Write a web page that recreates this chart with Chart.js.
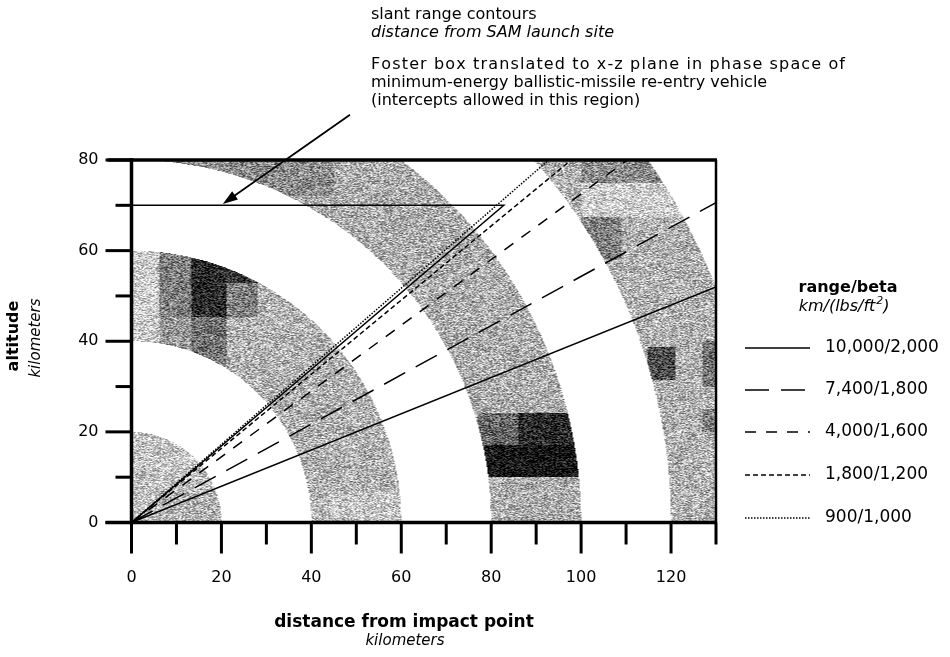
<!DOCTYPE html>
<html>
<head>
<meta charset="utf-8">
<script src="https://cdn.jsdelivr.net/npm/chart.js@4.4.1/dist/chart.umd.min.js"></script>
<style>
  html, body { margin: 0; padding: 0; background: #fff; }
  #wrap { position: relative; width: 950px; height: 657px; }
  canvas { background: #fff; }
</style>
</head>
<body>
<div id="wrap"><canvas id="chart" width="950" height="657"></canvas></div>
<script>
// Slant-range bands (km from the SAM launch site) drawn as shaded rings
const ringBands = [[0, 20], [40, 60], [80, 100], [120, 140]];
// base darkness of each band (0 = white, 1 = black)
const ringShade = [0.22, 0.30, 0.32, 0.30];
// darker / lighter cells inside the bands: [xFrom, xTo, yFrom, yTo, darkness]
const shadeCells = [
  [6, 20, 0, 7, 0.3],
  [0, 6.3, 40, 60, 0.2],
  [6.3, 13.3, 35, 45.4, 0.4],
  [13.3, 21.2, 35, 45.4, 0.55],
  [6.3, 13.3, 45.4, 60, 0.5],
  [13.3, 21.2, 45.4, 60, 0.86],
  [21.2, 28, 52.8, 60, 0.8],
  [21.2, 28, 45.4, 52.8, 0.5],
  [44, 60, 0, 7, 0.22],
  [10, 45, 72, 80, 0.45],
  [77, 86, 17.1, 24.1, 0.6],
  [86, 100, 17.1, 24.1, 0.85],
  [77, 100, 10.1, 17.1, 0.97],
  [100, 109, 58, 67.5, 0.5],
  [100, 122, 67.5, 75, 0.18],
  [100, 130, 75, 80, 0.45],
  [114.8, 121, 31.4, 38.8, 0.7],
  [127, 130, 30, 40, 0.55],
  [127, 130, 20, 25, 0.5]
];

// Trajectories: range/beta of each re-entry vehicle, straight from the impact point
const seriesNames = ['10,000/2,000', '7,400/1,800', '4,000/1,600', '1,800/1,200', '900/1,000'];
const seriesEndX = [130, 130, 110.3, 97.8, 92.8];
const seriesEndY = [52, 70.6, 80, 80, 80];
const seriesDash = [[], [24, 12], [11, 10], [5, 3], [1.5, 1.5]];

// Foster box outline (intercepts allowed inside)
const fosterX = [0, 82.8, 0];
const fosterY = [70, 70, 0];

// Axis ranges and tick steps
const xRange = [0, 130];
const yRange = [0, 80];
const tickStep = 10;
const labelStep = 20;

// Annotation arrow, in km: tail and tip
const arrowTail = [48.6, 90];
const arrowTip = [20.3, 70.3];

const FONT = '"DejaVu Sans", "Liberation Sans", sans-serif';

function grain(i, j) {
  let h = Math.imul(i + 1, 0x27d4eb2d) ^ Math.imul(j + 7, 0x165667b1);
  h = Math.imul(h ^ (h >>> 15), 0x85ebca6b);
  h = Math.imul(h ^ (h >>> 13), 0xc2b2ae35);
  h ^= h >>> 16;
  return (h >>> 0) / 4294967296;
}

const ringPlugin = {
  id: 'ringPlugin',
  beforeDatasetsDraw(chart) {
    const { ctx, chartArea: a, scales } = chart;
    const xs = scales.x, ys = scales.y;
    const w = Math.round(a.right - a.left), h = Math.round(a.bottom - a.top);
    const off = document.createElement('canvas');
    off.width = w; off.height = h;
    const octx = off.getContext('2d');
    const img = octx.createImageData(w, h);
    const xv = new Float64Array(w), yv = new Float64Array(h);
    for (let i = 0; i < w; i++) xv[i] = xs.getValueForPixel(a.left + i + 0.5);
    for (let j = 0; j < h; j++) yv[j] = ys.getValueForPixel(a.top + j + 0.5);
    for (let j = 0; j < h; j++) {
      for (let i = 0; i < w; i++) {
        const x = xv[i], y = yv[j], r = Math.hypot(x, y);
        let band = -1;
        for (let k = 0; k < ringBands.length; k++) {
          if (r >= ringBands[k][0] && r < ringBands[k][1]) { band = k; break; }
        }
        if (band < 0) continue;
        let d = ringShade[band];
        for (const c of shadeCells) {
          if (x >= c[0] && x < c[1] && y >= c[2] && y < c[3]) d = c[4];
        }
        const v = Math.max(0, Math.min(255, 255 * (1 - d) + (grain(i, j) - 0.5) * 170));
        const p = (j * w + i) * 4;
        img.data[p] = img.data[p + 1] = img.data[p + 2] = v;
        img.data[p + 3] = 255;
      }
    }
    octx.putImageData(img, 0, 0);
    ctx.drawImage(off, a.left, a.top);
  }
};

function seg(ctx, x1, y1, x2, y2) {
  ctx.beginPath(); ctx.moveTo(x1, y1); ctx.lineTo(x2, y2); ctx.stroke();
}

// set a line of text out to a fixed width with even letter spacing
function spaced(ctx, text, x, y, width) {
  const chars = Array.from(text);
  const total = chars.reduce((s, c) => s + ctx.measureText(c).width, 0);
  const extra = (width - total) / (chars.length - 1);
  let cx = x;
  chars.forEach(c => { ctx.fillText(c, cx, y); cx += ctx.measureText(c).width + extra; });
}

const framePlugin = {
  id: 'framePlugin',
  afterDatasetsDraw(chart) {
    const { ctx, chartArea: a, scales } = chart;
    const xs = scales.x, ys = scales.y;
    ctx.save();
    ctx.strokeStyle = '#000';
    ctx.lineCap = 'butt';
    ctx.setLineDash([]);
    ctx.lineWidth = 3;
    ys.ticks.forEach(t => {
      const py = ys.getPixelForValue(t.value);
      const len = t.value % labelStep === 0 ? 26 : 16;
      seg(ctx, a.left - len, py, a.left, py);
    });
    xs.ticks.forEach(t => {
      const px = xs.getPixelForValue(t.value);
      const len = t.value % labelStep === 0 ? 31 : 22;
      seg(ctx, px, a.bottom, px, a.bottom + len);
    });
    ctx.lineWidth = 3.5;
    seg(ctx, a.left, a.top - 1.7, a.left, a.bottom + 1.7);
    seg(ctx, a.left - 26, a.bottom, a.right + 1, a.bottom);
    seg(ctx, a.left - 24, a.top, a.right + 1, a.top);
    ctx.lineWidth = 2.5;
    seg(ctx, a.right, a.top, a.right, a.bottom);
    ctx.restore();
  },
  afterDraw(chart) {
    const { ctx, scales } = chart;
    const xs = scales.x, ys = scales.y;
    ctx.save();
    ctx.fillStyle = '#000';
    ctx.textBaseline = 'middle';

    // annotations above the plot
    ctx.textAlign = 'left';
    ctx.font = '16px ' + FONT;
    ctx.fillText('slant range contours', 371, 15);
    ctx.font = 'italic 16px ' + FONT;
    ctx.fillText('distance from SAM launch site', 371, 33);
    ctx.font = '16px ' + FONT;
    spaced(ctx, 'Foster box translated to x-z plane in phase space of', 371, 65, 474);
    ctx.fillText('minimum-energy ballistic-missile re-entry vehicle', 371, 83);
    ctx.fillText('(intercepts allowed in this region)', 371, 101);

    // arrow to the top of the Foster box
    const tx = xs.getPixelForValue(arrowTail[0]), ty = ys.getPixelForValue(arrowTail[1]);
    const hx = xs.getPixelForValue(arrowTip[0]), hy = ys.getPixelForValue(arrowTip[1]);
    const ang = Math.atan2(hy - ty, hx - tx);
    const hl = 15, hw = 5;
    ctx.strokeStyle = '#000';
    ctx.lineWidth = 1.8;
    seg(ctx, tx, ty, hx - Math.cos(ang) * hl * 0.8, hy - Math.sin(ang) * hl * 0.8);
    ctx.beginPath();
    ctx.moveTo(hx, hy);
    ctx.lineTo(hx - Math.cos(ang) * hl + Math.sin(ang) * hw, hy - Math.sin(ang) * hl - Math.cos(ang) * hw);
    ctx.lineTo(hx - Math.cos(ang) * hl - Math.sin(ang) * hw, hy - Math.sin(ang) * hl + Math.cos(ang) * hw);
    ctx.closePath();
    ctx.fill();

    // x axis title
    ctx.textAlign = 'center';
    ctx.font = 'bold 17px ' + FONT;
    ctx.fillText('distance from impact point', 404, 623);
    ctx.font = 'italic 15px ' + FONT;
    ctx.fillText('kilometers', 405, 641);

    // y axis title (rotated)
    ctx.save();
    ctx.translate(14, 336);
    ctx.rotate(-Math.PI / 2);
    ctx.font = 'bold 16px ' + FONT;
    ctx.fillText('altitude', 0, 0);
    ctx.font = 'italic 15px ' + FONT;
    ctx.fillText('kilometers', -2, 22);
    ctx.restore();

    // legend
    ctx.font = 'bold 16px ' + FONT;
    ctx.fillText('range/beta', 848, 288);
    ctx.font = 'italic 16px ' + FONT;
    const unit = 'km/(lbs/ft', uw = ctx.measureText(unit).width;
    const ux = 842 - (uw + 10) / 2;
    ctx.textAlign = 'left';
    ctx.fillText(unit, ux, 307);
    ctx.font = 'italic 11px ' + FONT;
    ctx.fillText('2', ux + uw + 1, 301);
    ctx.font = 'italic 16px ' + FONT;
    ctx.fillText(')', ux + uw + 8, 307);

    const rows = [348, 390, 432, 475, 518];
    chart.data.datasets.forEach((ds, i) => {
      if (i >= seriesNames.length) return;
      const y = rows[i];
      ctx.save();
      ctx.strokeStyle = '#000';
      ctx.lineWidth = ds.borderWidth;
      ctx.setLineDash(ds.borderDash || []);
      seg(ctx, 745, y, 810, y);
      ctx.restore();
      ctx.font = '17px ' + FONT;
      ctx.textAlign = 'left';
      ctx.fillText(ds.label, 825, y);
    });
    ctx.restore();
  }
};

const datasets = seriesNames.map((name, i) => ({
  label: name,
  data: [{ x: 0, y: 0 }, { x: seriesEndX[i], y: seriesEndY[i] }],
  borderColor: '#000',
  borderWidth: 1.5,
  borderDash: seriesDash[i],
  pointRadius: 0,
  showLine: true,
  fill: false,
  tension: 0
}));
datasets.push({
  label: 'Foster box',
  data: fosterX.map((x, i) => ({ x, y: fosterY[i] })),
  borderColor: '#000',
  borderWidth: 1.5,
  pointRadius: 0,
  showLine: true,
  fill: false,
  tension: 0
});

new Chart(document.getElementById('chart'), {
  type: 'scatter',
  data: { datasets },
  options: {
    responsive: false,
    animation: false,
    layout: { padding: { left: 0, top: 160, right: 234, bottom: 0 } },
    plugins: { legend: { display: false }, tooltip: { enabled: false } },
    scales: {
      x: {
        type: 'linear', min: xRange[0], max: xRange[1],
        grid: { display: false, drawTicks: false },
        border: { display: false },
        ticks: {
          stepSize: tickStep, autoSkip: false, maxRotation: 0, padding: 46,
          color: '#000', font: { family: FONT, size: 16 },
          callback: v => (v % labelStep === 0 ? String(v) : '')
        },
        afterFit: s => { s.height = 134.5; }
      },
      y: {
        type: 'linear', min: yRange[0], max: yRange[1],
        grid: { display: false, drawTicks: false },
        border: { display: false },
        ticks: {
          stepSize: tickStep, autoSkip: false, padding: 33,
          color: '#000', font: { family: FONT, size: 16 },
          callback: v => (v % labelStep === 0 ? String(v) : '')
        },
        afterFit: s => { s.width = 131.5; }
      }
    }
  },
  plugins: [ringPlugin, framePlugin]
});
</script>
</body>
</html>
